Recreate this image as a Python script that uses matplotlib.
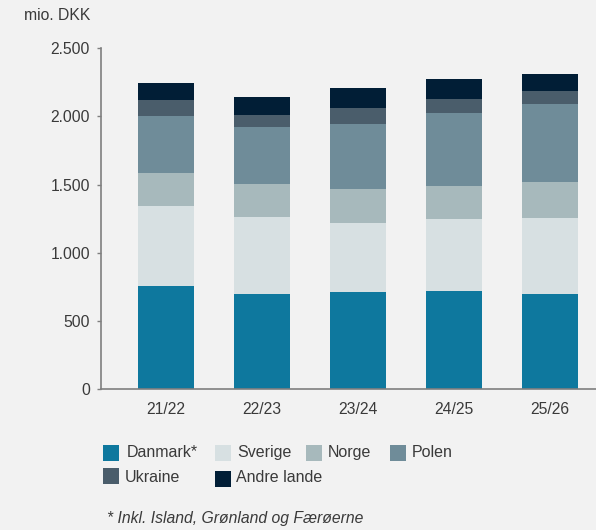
import matplotlib.pyplot as plt
from matplotlib.patches import Rectangle
import numpy as np

years = ["21/22", "22/23", "23/24", "24/25", "25/26"]
danmark = [757, 699, 713, 721, 699]
sverige = [587, 564, 506, 527, 557]
norge = [242, 242, 249, 242, 264]
polen = [418, 418, 477, 535, 571]
ukraine = [117, 88, 117, 103, 96]
andre = [124, 132, 147, 147, 124]

labels = ["Danmark*", "Sverige", "Norge", "Polen", "Ukraine", "Andre lande"]
colors = ["#0e789e", "#d7e0e2", "#a7b9bc", "#6f8c99", "#4a5d6b", "#011e36"]

plt.rcParams["font.family"] = ["Liberation Sans", "DejaVu Sans"]
bg = "#f2f2f2"
txt = "#3a3a3a"
W, H = 596, 530

fig = plt.figure(figsize=(W / 100, H / 100), dpi=100, facecolor=bg)
ax = fig.add_axes([101 / W, (H - 389.3) / H, 1 - 101 / W, (389.3 - 48) / H])
ax.set_facecolor(bg)

x = np.arange(len(years))
bottom = np.zeros(len(years))
for vals, col in zip([danmark, sverige, norge, polen, ukraine, andre], colors):
    ax.bar(x, vals, width=0.583, bottom=bottom, color=col, linewidth=0)
    bottom += np.array(vals)

ax.set_xlim(-0.677, 4.479)
ax.set_ylim(0, 2500)
ax.set_yticks([0, 500, 1000, 1500, 2000, 2500])
ax.set_yticklabels(["0", "500", "1.000", "1.500", "2.000", "2.500"])
ax.set_xticks(x)
ax.set_xticklabels(years)

for side in ["top", "right"]:
    ax.spines[side].set_visible(False)
for side in ["left", "bottom"]:
    ax.spines[side].set_color("#7f7f7f")
    ax.spines[side].set_linewidth(1.2)

ax.tick_params(axis="y", length=3, width=1, color="#7f7f7f", pad=5, labelsize=11.3, labelcolor=txt)
ax.tick_params(axis="x", length=0, pad=9, labelsize=11.3, labelcolor=txt)

fig.text(90 / W, 1 - 15 / H, "mio. DKK", ha="right", va="center", fontsize=11.3, color=txt)

# legend laid out by hand (pixels: square x, square top y, text x, text centre y)
slots = [(103, 445, 127, 452.5), (215, 445, 237, 452.5), (306, 445, 328, 452.5),
         (390, 445, 412, 452.5), (103, 468, 125, 478), (215, 471, 236, 478)]
for (sx, sy, tx, ty), lab, col in zip(slots, labels, colors):
    fig.add_artist(Rectangle((sx / W, 1 - (sy + 16) / H), 16 / W, 16 / H,
                             transform=fig.transFigure, facecolor=col, linewidth=0))
    fig.text(tx / W, 1 - ty / H, lab, ha="left", va="center", fontsize=11.5, color=txt)

fig.text(107 / W, 1 - 519 / H, "* Inkl. Island, Grønland og Færøerne", ha="left", va="center",
         fontsize=11.3, style="italic", color=txt)

fig.savefig("out.png", dpi=100, facecolor=bg)
